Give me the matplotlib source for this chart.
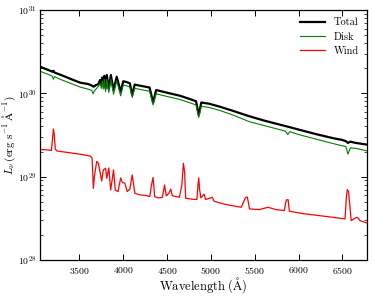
import matplotlib
matplotlib.use("Agg")
import matplotlib.pyplot as plt
import numpy as np
from matplotlib.ticker import LogLocator, NullLocator, FixedLocator

plt.rcParams['font.family'] = 'cmr10'
plt.rcParams['mathtext.fontset'] = 'cm'
plt.rcParams['axes.unicode_minus'] = False
plt.rcParams['axes.formatter.use_mathtext'] = True

# spectra: wavelength (A) and log10 L
tot_wl = [3050, 3150, 3195, 3205, 3215, 3300, 3400, 3508, 3600, 3640, 3660, 3690,
          3716, 3735, 3750, 3760, 3771, 3783, 3798, 3812, 3835, 3858, 3889, 3925,
          3970, 4000, 4040, 4075, 4102, 4130, 4200, 4300, 4340, 4375, 4450, 4550,
          4650, 4750, 4830, 4861, 4890, 4980, 5100, 5250, 5437, 5600, 5800, 5876,
          6000, 6200, 6400, 6500, 6540, 6563, 6590, 6650, 6775]
tot_log = [30.32, 30.278, 30.258, 30.27, 30.25, 30.216, 30.173, 30.128, 30.112, 30.094, 30.08, 30.10,
           30.11, 30.16, 30.10, 30.19, 30.09, 30.21, 30.06, 30.22, 30.05, 30.22, 30.04, 30.20,
           30.02, 30.145, 30.135, 30.12, 29.98, 30.105, 30.09, 30.07, 29.89, 30.04, 30.02, 29.995,
           29.97, 29.935, 29.905, 29.74, 29.89, 29.875, 29.84, 29.79, 29.725, 29.675, 29.62, 29.60,
           29.565, 29.51, 29.46, 29.44, 29.425, 29.405, 29.42, 29.405, 29.385]

disk_wl = [3050, 3150, 3190, 3203, 3215, 3300, 3400, 3508, 3600, 3640, 3655, 3670,
           3697, 3720, 3735, 3750, 3760, 3771, 3783, 3798, 3812, 3835, 3858, 3889,
           3925, 3970, 4000, 4040, 4075, 4102, 4130, 4200, 4300, 4340, 4375, 4450,
           4550, 4650, 4750, 4830, 4861, 4890, 4980, 5100, 5250, 5437, 5600, 5800,
           5850, 5876, 5900, 6000, 6200, 6400, 6500, 6540, 6563, 6590, 6650, 6775]
disk_log = [30.265, 30.225, 30.205, 30.17, 30.20, 30.16, 30.12, 30.075, 30.05, 30.035, 29.995, 30.03,
            30.06, 30.09, 30.12, 30.06, 30.15, 30.05, 30.17, 30.02, 30.17, 30.01, 30.17, 29.99,
            30.15, 29.97, 30.10, 30.09, 30.075, 29.95, 30.06, 30.045, 30.025, 29.86, 29.995, 29.975,
            29.95, 29.925, 29.89, 29.86, 29.71, 29.845, 29.83, 29.795, 29.74, 29.66, 29.615, 29.56,
            29.545, 29.505, 29.54, 29.505, 29.45, 29.395, 29.37, 29.36, 29.27, 29.345, 29.34, 29.31]

wind_wl = [3050, 3150, 3180, 3192, 3203, 3212, 3225, 3243, 3330, 3432, 3530, 3621,
           3644, 3659, 3670, 3697, 3716, 3754, 3772, 3799, 3811, 3835, 3856, 3889,
           3908, 3940, 3970, 3990, 4018, 4045, 4075, 4102, 4132, 4189, 4250, 4302,
           4322, 4340, 4358, 4400, 4445, 4471, 4490, 4520, 4541, 4560, 4640, 4668,
           4686, 4700, 4712, 4793, 4840, 4852, 4861, 4870, 4885, 4922, 4940, 5016,
           5035, 5100, 5213, 5346, 5390, 5400, 5415, 5425, 5440, 5554, 5650, 5743,
           5837, 5855, 5866, 5880, 5895, 6046, 6234, 6386, 6530, 6545, 6556, 6570,
           6585, 6600, 6660, 6678, 6700, 6775]
wind_log = [29.326, 29.32, 29.314, 29.45, 29.572, 29.50, 29.33, 29.308, 29.295, 29.28, 29.265, 29.248,
            29.224, 28.86, 29.00, 29.182, 29.16, 28.948, 29.08, 29.10, 28.98, 29.104, 28.84, 29.08,
            28.84, 28.82, 28.984, 28.93, 28.92, 28.82, 28.85, 29.02, 28.80, 28.78, 28.775, 28.76,
            28.90, 28.99, 28.76, 28.744, 28.75, 28.90, 28.768, 28.80, 28.85, 28.77, 28.752, 28.90,
            29.16, 29.05, 28.74, 28.728, 28.725, 28.90, 28.984, 28.85, 28.744, 28.79, 28.725, 28.752,
            28.705, 28.684, 28.656, 28.632, 28.74, 28.752, 28.755, 28.70, 28.612, 28.604, 28.632, 28.604,
            28.592, 28.70, 28.723, 28.723, 28.584, 28.556, 28.532, 28.512, 28.492, 28.75, 28.844, 28.82,
            28.65, 28.472, 28.51, 28.504, 28.472, 28.444]

x_ticks = [3500, 4000, 4500, 5000, 5500, 6000, 6500]

fig = plt.figure(figsize=(3.74, 2.96), dpi=100)
ax = fig.add_axes([0.107, 0.122, 0.873, 0.844])

ax.plot(tot_wl, 10 ** np.array(tot_log), color='black', lw=1.6, label='Total')
ax.plot(disk_wl, 10 ** np.array(disk_log), color='#008000', lw=0.8, label='Disk')
ax.plot(wind_wl, 10 ** np.array(wind_log), color='#ff0000', lw=0.9, label='Wind')

ax.set_yscale('log')
ax.set_xlim(3050, 6775)
ax.set_ylim(1e28, 1e31)
ax.xaxis.set_major_locator(FixedLocator(x_ticks))
ax.xaxis.set_minor_locator(NullLocator())
ax.yaxis.set_major_locator(LogLocator(base=10, numticks=10))
ax.yaxis.set_minor_locator(LogLocator(base=10, subs=np.arange(2, 10), numticks=10))

ax.tick_params(which='both', direction='in', top=True, right=True, labelsize=7)
ax.tick_params(which='major', length=4, width=0.7)
ax.tick_params(which='minor', length=2, width=0.5)
ax.tick_params(axis='y', pad=2.5)
for s in ax.spines.values():
    s.set_linewidth(0.9)

ax.set_xlabel(r'$\mathrm{Wavelength\ (\AA)}$', fontsize=9)
ax.set_ylabel(r'$L_\nu\,(\mathrm{erg\ s^{-1}\ \AA^{-1}})$', fontsize=8)
ax.xaxis.set_label_coords(0.5, -0.06)
ax.yaxis.set_label_coords(-0.068, 0.5)

ax.legend(loc='upper right', frameon=False, fontsize=7.5, handlelength=2.4,
          labelspacing=0.45, borderaxespad=0.35)

fig.savefig('out.png', dpi=100)
